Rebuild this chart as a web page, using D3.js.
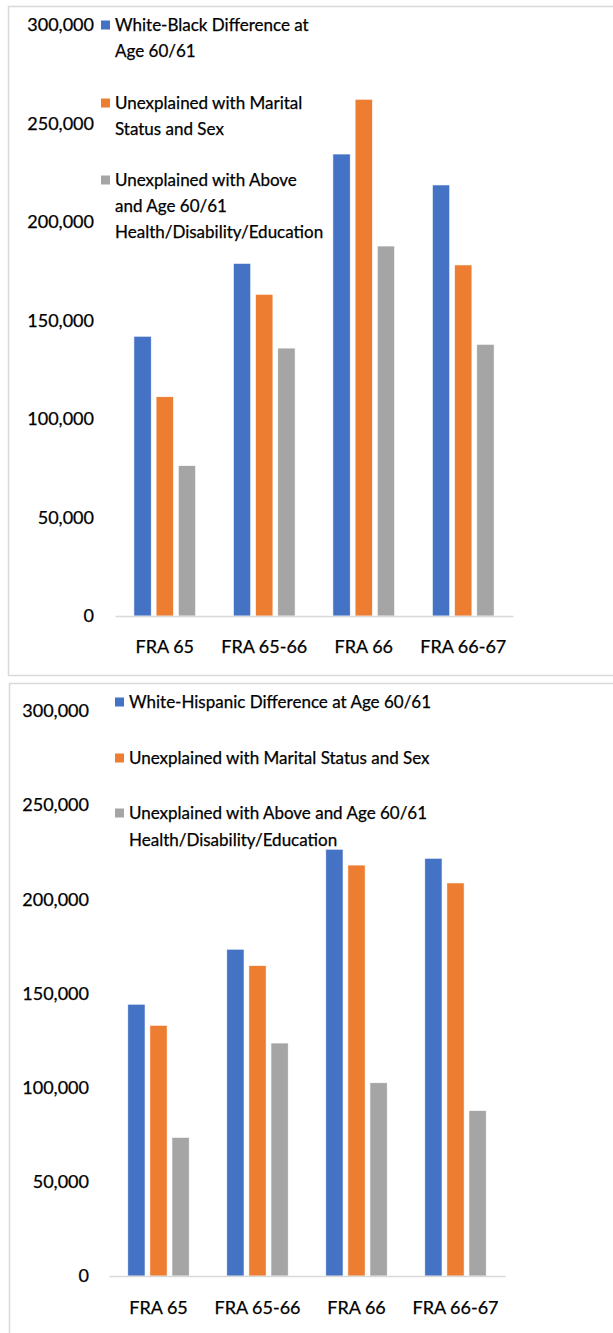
<!DOCTYPE html>
<html>
<head>
<meta charset="utf-8">
<script src="https://cdn.jsdelivr.net/npm/d3@7"></script>
<style>
  body { margin: 0; background: #fff; }
  svg { display: block; font-family: Lato, 'Open Sans', sans-serif; }
  text { fill: #000; stroke: #000; stroke-width: 0.25; }
</style>
</head>
<body>
<svg id="chart" width="613" height="1333"></svg>
<script>
var categories = ['FRA 65', 'FRA 65-66', 'FRA 66', 'FRA 66-67']
var yTicks = [0, 50000, 100000, 150000, 200000, 250000, 300000]
var colors = ['#4472c4', '#ed7d31', '#a5a5a5']

// top panel: white-black
var blackDiff = [142000, 179000, 234500, 218800]
var blackMarital = [111300, 163300, 262300, 178200]
var blackHealth = [76300, 136000, 187800, 137900]
var blackLegend = [
  ['White-Black Difference at', 'Age 60/61'],
  ['Unexplained with Marital', 'Status and Sex'],
  ['Unexplained with Above', 'and Age 60/61', 'Health/Disability/Education']
]

// bottom panel: white-hispanic
var hispDiff = [144300, 173500, 226600, 221800]
var hispMarital = [133100, 164800, 218200, 208700]
var hispHealth = [73600, 123700, 102600, 87800]
var hispLegend = [
  ['White-Hispanic Difference at Age 60/61'],
  ['Unexplained with Marital Status and Sex'],
  ['Unexplained with Above and Age 60/61', 'Health/Disability/Education']
]

var svg = d3.select('#chart')

function drawPanel(opts) {
  var g = svg.append('g')

  // frame
  g.append('rect')
    .attr('x', opts.frame[0] + 0.5)
    .attr('y', opts.frame[1] + 0.5)
    .attr('width', opts.frame[2])
    .attr('height', opts.frame[3])
    .attr('fill', 'none')
    .attr('stroke', '#d9d9d9')
    .attr('stroke-width', 1.5)

  var y = d3.scaleLinear().domain([0, 300000]).range([opts.bottom, opts.top])
  var x0 = d3.scaleBand()
    .domain(categories)
    .range([opts.left, opts.right])
    .paddingInner(0.38)
    .paddingOuter(0.19)
  var x1 = d3.scaleBand()
    .domain([0, 1, 2])
    .range([0, x0.bandwidth()])
    .paddingInner(0.22)

  var rows = categories.map(function(c, i) {
    return { cat: c, values: opts.series.map(s => s[i]) }
  })

  g.selectAll('.group')
    .data(rows)
    .enter()
    .append('g')
    .attr('class', 'group')
    .attr('transform', d => `translate(${x0(d.cat)},0)`)
    .selectAll('rect')
    .data(d => d.values.map((v, k) => ({ k: k, v: v })))
    .enter()
    .append('rect')
    .attr('x', d => x1(d.k))
    .attr('y', d => y(d.v))
    .attr('width', x1.bandwidth())
    .attr('height', d => y(0) - y(d.v))
    .attr('fill', d => colors[d.k])
    .attr('stroke', '#fff')
    .attr('stroke-width', 0.6)

  var yAxis = g.append('g')
    .attr('transform', `translate(${opts.labelRight},0)`)
    .call(d3.axisLeft(y).tickValues(yTicks).tickSize(0).tickPadding(0).tickFormat(d3.format(',')))
  yAxis.select('.domain').remove()
  yAxis.selectAll('text').attr('font-size', 18).attr('font-family', 'Lato')

  var xAxis = g.append('g')
    .attr('transform', `translate(0,${opts.bottom})`)
    .call(d3.axisBottom(x0).tickSize(0).tickPadding(opts.catPad))
  xAxis.select('.domain').attr('stroke', '#d9d9d9').attr('stroke-width', 1.5)
  xAxis.selectAll('text').attr('font-size', 18).attr('font-family', 'Lato')

  // legend
  var leg = g.selectAll('.legend')
    .data(opts.legend)
    .enter()
    .append('g')
    .attr('class', 'legend')
    .attr('transform', (d, i) => `translate(${opts.legX},${opts.legY[i]})`)
  leg.append('rect')
    .attr('x', 0)
    .attr('y', -4.5)
    .attr('width', 9)
    .attr('height', 9)
    .attr('fill', (d, i) => colors[i])
  leg.append('text')
    .attr('x', 14)
    .attr('font-size', 17)
    .selectAll('tspan')
    .data(d => d)
    .enter()
    .append('tspan')
    .attr('x', 14)
    .attr('y', (d, j) => j * opts.lineH)
    .attr('dy', '0.35em')
    .text(d => d)
}

drawPanel({
  frame: [8, 6, 620, 669],
  top: 25,
  bottom: 616,
  left: 115,
  right: 513,
  labelRight: 94,
  catPad: 24,
  series: [blackDiff, blackMarital, blackHealth],
  legend: blackLegend,
  legX: 101,
  legY: [25, 103, 180],
  lineH: 26
})

drawPanel({
  frame: [9, 683, 620, 700],
  top: 711,
  bottom: 1276,
  left: 109,
  right: 505,
  labelRight: 89,
  catPad: 25,
  series: [hispDiff, hispMarital, hispHealth],
  legend: hispLegend,
  legX: 115,
  legY: [702, 758, 813],
  lineH: 27
})
</script>
</body>
</html>
